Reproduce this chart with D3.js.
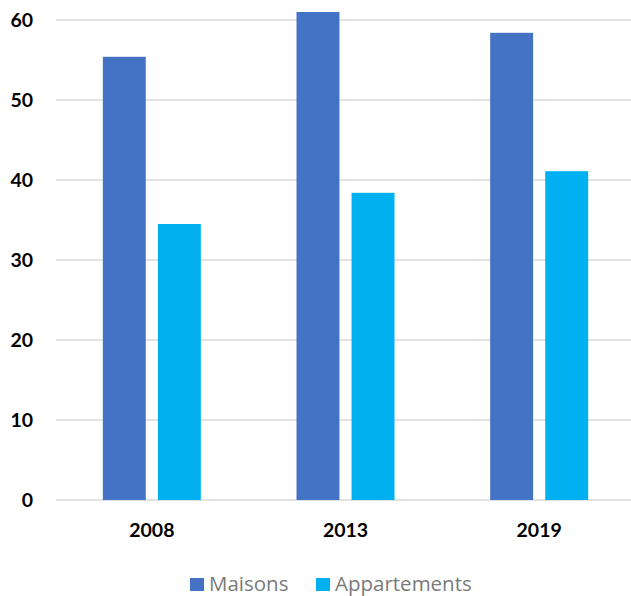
<!DOCTYPE html>
<html><head><meta charset="utf-8">
<script src="https://cdn.jsdelivr.net/npm/d3@7"></script>
<style>body{margin:0;background:#fff}svg{display:block}</style>
</head><body>
<svg id="c" width="631" height="596"></svg>
<script>
const categories = ["2008", "2013", "2019"];
const seriesNames = ["Maisons", "Appartements"];
const maisons = [55.4, 61.0, 58.4];
const appartements = [34.5, 38.4, 41.1];
const yTicks = [0, 10, 20, 30, 40, 50, 60];
const colors = ["#4472C4", "#00B0F0"];

const svg = d3.select("#c");
const font = "Lato, 'Open Sans', sans-serif";
const x = d3.scaleBand().domain(categories).range([55, 636]).paddingInner(0).paddingOuter(0);
const y = d3.scaleLinear().domain([0, 60]).range([500, 20]);
const inner = d3.scaleBand().domain(seriesNames).range([x.bandwidth()/2 - 49, x.bandwidth()/2 + 49]).paddingInner(0.22);

// gridlines
svg.append("g").selectAll("line").data(yTicks).join("line")
  .attr("x1", 56).attr("x2", 631)
  .attr("y1", d => y(d)).attr("y2", d => y(d))
  .attr("stroke", "#d9d9d9").attr("stroke-width", 1.5);

// y axis labels
const yAxis = d3.axisLeft(y).tickValues(yTicks).tickSize(0).tickPadding(0);
const ya = svg.append("g").attr("transform", "translate(33,0)").call(yAxis);
ya.select(".domain").remove();
ya.selectAll("text").attr("font-family", font).attr("font-weight", "bold")
  .attr("font-size", 19.5).attr("fill", "#000");

// bars
const data = categories.map((c, i) => ({c, vals: [maisons[i], appartements[i]]}));
const groups = svg.append("g").selectAll("g").data(data).join("g")
  .attr("transform", d => `translate(${x(d.c)},0)`);
groups.selectAll("rect").data(d => d.vals.map((v, j) => ({s: seriesNames[j], v, j}))).join("rect")
  .attr("x", d => inner(d.s)).attr("width", inner.bandwidth())
  .attr("y", d => y(d.v)).attr("height", d => y(0) - y(d.v))
  .attr("fill", d => colors[d.j]);

// x axis labels
const xAxis = d3.axisBottom(x).tickSize(0).tickPadding(0);
const xa = svg.append("g").attr("transform", "translate(0,523)").call(xAxis);
xa.select(".domain").remove();
xa.selectAll("text").attr("font-family", font).attr("font-weight", "bold")
  .attr("font-size", 19.5).attr("fill", "#000").attr("dy", "0.71em");

// legend
const legendX = [190, 316];
const lg = svg.append("g").selectAll("g").data(seriesNames).join("g")
  .attr("transform", (d, i) => `translate(${legendX[i]},578)`);
lg.append("rect").attr("width", 14).attr("height", 13).attr("fill", (d, i) => colors[i]);
lg.append("text").attr("x", 19).attr("y", 13)
  .attr("font-family", "'Open Sans', sans-serif").attr("font-size", 20.5).attr("fill", "#7a7a7a").text(d => d);
</script>
</body></html>
